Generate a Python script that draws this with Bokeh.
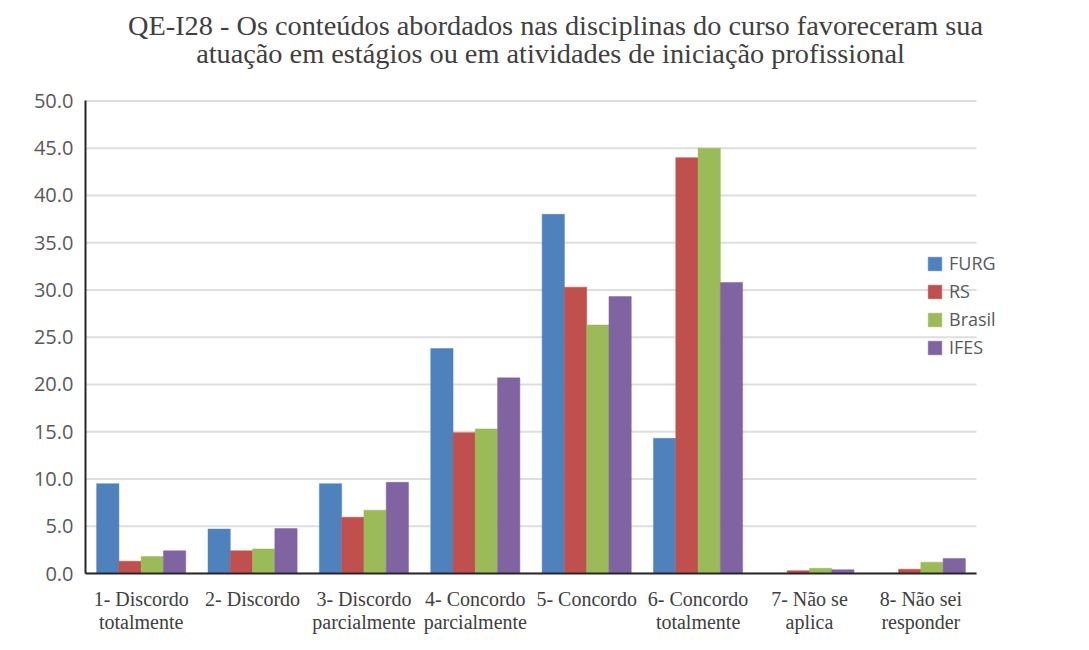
from bokeh.plotting import figure
from bokeh.models import (ColumnDataSource, FixedTicker, PrintfTickFormatter,
                          Legend, LegendItem, Range1d, Label)
from bokeh.embed import file_html
from bokeh.resources import INLINE

# ---- data ----
categories = [
    "1- Discordo\ntotalmente",
    "2- Discordo",
    "3- Discordo\nparcialmente",
    "4- Concordo\nparcialmente",
    "5- Concordo",
    "6- Concordo\ntotalmente",
    "7- Não se\naplica",
    "8- Não sei\nresponder",
]
series_names = ["FURG", "RS", "Brasil", "IFES"]
furg = [9.5, 4.7, 9.5, 23.8, 38.0, 14.3, 0.0, 0.0]
rs = [1.3, 2.4, 5.95, 14.9, 30.3, 44.0, 0.3, 0.45]
brasil = [1.8, 2.6, 6.7, 15.3, 26.3, 45.0, 0.55, 1.2]
ifes = [2.4, 4.75, 9.65, 20.7, 29.3, 30.8, 0.4, 1.6]
y_ticks = [0, 5, 10, 15, 20, 25, 30, 35, 40, 45, 50]
title_lines = [
    "QE-I28 - Os conteúdos abordados nas disciplinas do curso favoreceram sua",
    "atuação em estágios ou em atividades de iniciação profissional",
]
colors = ["#4F81BD", "#C0504D", "#9BBB59", "#8064A2"]

n = len(categories)
xpos = [i + 0.5 for i in range(n)]
series = {"FURG": furg, "RS": rs, "Brasil": brasil, "IFES": ifes}

p = figure(
    width=1073, height=640,
    x_range=Range1d(0, 8.305), y_range=Range1d(0, 60.1),
    output_backend="svg", toolbar_location=None,
    min_border_left=85, min_border_right=63, min_border_top=5, min_border_bottom=67,
)
p.title = None
p.outline_line_color = None
p.background_fill_color = "white"
p.border_fill_color = "white"

# horizontal gridlines restricted to the category span
p.segment(x0=[0] * len(y_ticks), x1=[n] * len(y_ticks), y0=y_ticks, y1=y_ticks,
          line_color="#dedede", line_width=2)

offsets = [-0.3, -0.1, 0.1, 0.3]
renderers = []
for name, col, off in zip(series_names, colors, offsets):
    src = ColumnDataSource(dict(x=[x + off for x in xpos], top=series[name]))
    r = p.vbar(x="x", top="top", width=0.2, source=src,
               fill_color=col, line_color=col, line_width=0.5)
    renderers.append(r)

# axes
p.yaxis.ticker = FixedTicker(ticks=y_ticks)
p.yaxis.bounds = (y_ticks[0], y_ticks[-1])
p.yaxis.formatter = PrintfTickFormatter(format="%.1f")
p.yaxis.major_label_text_font = "Open Sans"
p.yaxis.major_label_text_font_size = "20px"
p.yaxis.major_label_text_color = "#595959"
p.yaxis.major_tick_line_color = None
p.yaxis.major_tick_out = 0
p.yaxis.major_tick_in = 0
p.yaxis.minor_tick_line_color = None
p.yaxis.major_label_standoff = 12
p.yaxis.axis_line_color = "#262626"
p.yaxis.axis_line_width = 2

p.xaxis.ticker = FixedTicker(ticks=xpos)
p.xaxis.major_label_overrides = {x: c for x, c in zip(xpos, categories)}
p.xaxis.bounds = (0, n)
p.xaxis.major_label_text_font = "Liberation Serif"
p.xaxis.major_label_text_font_size = "20px"
p.xaxis.major_label_text_color = "#404040"
p.xaxis.major_tick_line_color = None
p.xaxis.major_tick_out = 0
p.xaxis.major_tick_in = 0
p.xaxis.minor_tick_line_color = None
p.xaxis.major_label_standoff = 14
p.xaxis.major_label_text_line_height = 1.05
p.xaxis.axis_line_color = "#262626"
p.xaxis.axis_line_width = 2

p.xgrid.grid_line_color = None
p.ygrid.grid_line_color = None

# legend
legend = Legend(
    items=[LegendItem(label=nm, renderers=[r]) for nm, r in zip(series_names, renderers)],
    location=(841, 214),
    padding=0, margin=0, spacing=4,
    glyph_width=17, glyph_height=17, label_standoff=6,
    label_text_font="Open Sans", label_text_font_size="18px", label_text_color="#595959",
    border_line_color=None, background_fill_alpha=0,
)
p.add_layout(legend, "center")

# title: two individually centred lines (inside the extended frame)
for txt, sx, sy in zip(title_lines, [470, 465], [548, 520]):
    p.add_layout(Label(x=sx, y=sy, x_units="screen", y_units="screen", text=txt,
                       text_align="center", text_baseline="alphabetic",
                       text_font="Liberation Serif", text_font_size="28.3px",
                       text_color="#404040"))

open("out.html", "w").write(file_html(p, INLINE))
